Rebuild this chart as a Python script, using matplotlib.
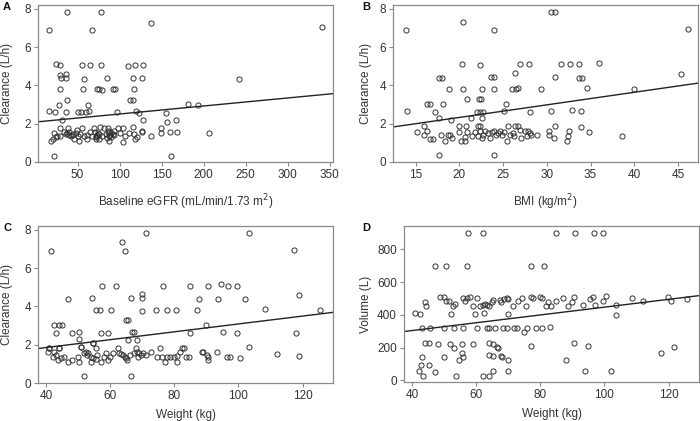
import numpy as np
import matplotlib
matplotlib.use("Agg")
import matplotlib.pyplot as plt

plt.rcParams['font.family'] = ['Liberation Sans', 'DejaVu Sans']

# ---- panel A: baseline eGFR vs clearance
egfr_a = [16.2, 37.3, 78.2, 67.5, 137.4, 341, 242, 25, 29.3, 55.6, 64.3, 78.2, 110, 119, 128,
          29.3, 36, 30.5, 36.5, 58, 85, 116.5, 127, 29, 57, 73, 75.4, 78.6, 91.7, 95, 116.7,
          38, 112.8, 115.6, 28, 62, 182, 193, 15.8, 23.8, 36.9, 50.4, 53.6, 60.7, 63.5, 96.5,
          119.5, 123.1, 154.9, 31.7, 128.3, 166.8, 156.9,
          29, 38.9, 49.6, 55.6, 69.5, 76.6, 81.4, 86.6, 97.7, 104.4, 116, 127.1, 149.7,
          22.6, 25.8, 29.7, 33.7, 36.9, 39.7, 41.7, 44.8, 48.8, 50.4, 52.8, 57.5, 61.5, 64.7,
          67.5, 70.3, 72.6, 75.4, 79.4, 86.2, 88.5, 90.1, 93.3, 100.5, 106, 111.2, 117.1, 117.9,
          127.1, 137.8, 149.7, 160, 168.8, 93.3, 18.6, 21, 25, 45.6, 51.6, 61.5, 71.5, 75.4,
          87.3, 104.4, 120.3, 22.6, 160.8, 206, 85, 88, 90, 87, 92, 84, 73, 74, 72, 37, 40, 43]
cl_a = [6.87, 7.83, 7.83, 6.90, 7.25, 7.04, 4.33, 5.13, 5.08, 5.06, 5.06, 5.06, 5.04, 5.06, 5.06,
        4.54, 4.60, 4.37, 4.37, 4.35, 4.37, 4.37, 4.37, 3.81, 3.79, 3.81, 3.81, 3.77, 3.81, 3.81, 3.81,
        3.23, 3.25, 3.23, 2.99, 3.00, 3.03, 2.99, 2.64, 2.61, 2.61, 2.59, 2.59, 2.61, 2.68, 2.59,
        2.68, 2.56, 2.56, 2.21, 2.21, 2.21, 2.07,
        1.79, 1.79, 1.65, 1.79, 1.79, 1.83, 1.79, 1.79, 1.79, 1.79, 1.83, 1.62, 1.79,
        1.51, 1.37, 1.37, 1.55, 1.48, 1.43, 1.37, 1.48, 1.51, 1.37, 1.48, 1.37, 1.43, 1.55,
        1.37, 1.55, 1.37, 1.48, 1.37, 1.55, 1.43, 1.30, 1.43, 1.51, 1.37, 1.51, 1.48, 1.20,
        1.55, 1.37, 1.51, 1.55, 1.58, 1.60, 1.08, 1.20, 1.30, 1.20, 1.08, 1.20, 1.20, 1.20,
        1.08, 1.03, 1.30, 0.33, 0.33, 1.53, 1.25, 1.35, 1.50, 1.62, 1.45, 1.45, 1.42, 1.52, 1.30, 1.52, 1.55, 1.40]
fit_a_x = [3, 354]
fit_a_y = [2.10, 3.57]

# ---- panel B: BMI vs clearance
bmi_b = [13.85, 20.42, 23.93, 30.46, 30.95, 46.1, 20.3, 22.37, 26.95, 28.0, 31.6, 32.67, 33.74, 35.95,
         26.37, 30.92, 17.67, 18.05, 23.63, 24.0, 33.7, 34.08, 45.38, 18.78, 20.46, 22.56, 24.0,
         25.99, 26.53, 26.72, 29.35, 34.58, 39.92, 20.92, 22.25, 22.52, 16.34, 16.6, 18.13, 25.3,
         14.05, 17.18, 22.02, 22.4, 22.71, 25.08, 28.05, 30.46, 32.86, 33.9, 17.67, 19.0, 21.3, 22.6,
         15.2, 16.0, 16.3, 15.9, 16.6, 17.0, 17.9, 18.3, 18.7, 19.1, 18.9, 19.95, 20.0, 20.2, 20.6,
         20.8, 20.9, 20.6, 21.4, 21.8, 22.1, 22.3, 22.1, 22.4, 22.6, 22.7, 22.9, 23.5, 23.7, 23.9,
         24.2, 24.4, 24.6, 24.9, 25.1, 25.4, 25.6, 25.8, 26.1, 26.2, 26.4, 26.7, 26.9, 27.1, 27.5,
         27.7, 27.9, 28.05, 28.2, 28.9, 30.3, 30.3, 30.8, 30.9, 32.3, 32.4, 32.56, 33.9, 34.8, 38.55,
         17.67, 23.9, 23.3]
cl_b = [6.90, 7.30, 6.90, 7.86, 7.86, 6.96, 5.13, 5.08, 5.10, 5.10, 5.10, 5.10, 5.10, 5.18,
        4.64, 4.43, 4.40, 4.40, 4.43, 4.43, 4.40, 4.40, 4.59, 3.83, 3.83, 3.83, 3.81,
        3.83, 3.83, 3.88, 3.83, 3.86, 3.83, 3.29, 3.29, 3.29, 3.04, 3.04, 3.04, 3.04,
        2.64, 2.61, 2.63, 2.63, 2.63, 2.64, 2.63, 2.66, 2.70, 2.64, 2.30, 2.17, 2.30, 2.30,
        1.57, 1.86, 1.63, 1.39, 1.22, 1.22, 1.41, 1.10, 1.41, 1.27, 1.43, 1.57, 1.86, 1.11, 1.29,
        1.86, 1.57, 1.10, 1.37, 1.55, 1.86, 1.86, 1.37, 1.60, 1.23, 1.43, 1.60, 1.25, 1.55, 1.60,
        1.39, 1.51, 1.60, 1.43, 1.55, 1.08, 1.86, 1.43, 1.51, 1.37, 1.86, 1.86, 1.65, 1.25, 1.60,
        1.37, 1.60, 1.51, 1.43, 1.41, 1.60, 1.43, 1.25, 1.86, 1.10, 1.37, 1.60, 1.81, 1.55, 1.37,
        0.38, 0.38, 1.51]
fit_b_x = [12.4, 47.3]
fit_b_y = [1.83, 4.12]

# ---- panel C: weight vs clearance
wt_c = [41.66, 63.8, 64.7, 71.3, 103.3, 117.2, 57.5, 61.8, 76.6, 84.9, 90.6, 94.7, 96.7, 99.6,
        69.9, 69.9, 66.5, 54.4, 46.8, 87.7, 93.6, 102.1, 118.9, 55.5, 56.7, 60.3, 69.9, 74.3, 77.7,
        80.5, 87.2, 108.4, 125.5, 64.9, 65.7, 42.4, 44.0, 45.1, 43.0, 90.0, 48.2, 50.2, 57.2, 59.3,
        66.7, 67.5, 84.9, 95.3, 99.6, 118.1, 50.2, 65.7, 68.5, 54.8, 50.9, 40.9, 44.2, 103.3, 112.1,
        119.0, 100.6, 97.3, 96.3, 93.2, 90.6, 90.6, 88.9, 51.8, 66.5,
        41.0, 42.6, 42.1, 43.1, 44.1, 43.6, 44.7, 45.5, 46.9, 48.0, 50.0, 50.4, 50.9, 51.9, 52.4,
        52.7, 53.1, 54.0, 54.8, 55.5, 55.8, 55.5, 57.1, 58.1, 58.6, 59.2, 60.0, 61.0, 62.3, 62.8,
        63.5, 64.1, 64.5, 64.8, 65.2, 66.2, 67.4, 68.0, 68.5, 68.8, 69.0, 69.5, 70.3, 71.1, 72.6,
        74.5, 75.5, 76.2, 77.0, 77.8, 78.8, 79.9, 80.9, 80.9, 81.9, 82.4, 83.0, 83.5, 84.5, 88.7,
        90.2, 40.5, 54.5, 54.0]
cl_c = [6.92, 7.35, 6.92, 7.86, 7.86, 6.97, 5.07, 5.07, 5.07, 5.07, 5.07, 5.16, 5.07, 5.07,
        4.65, 4.43, 4.43, 4.43, 4.37, 4.37, 4.37, 4.37, 4.58, 3.83, 3.83, 3.83, 3.78, 3.83, 3.83,
        3.83, 3.83, 3.87, 3.82, 3.29, 3.29, 3.05, 3.03, 3.05, 2.60, 3.03, 2.63, 2.68, 2.63, 2.63,
        2.67, 2.67, 2.63, 2.68, 2.63, 2.63, 2.28, 2.25, 2.25, 2.07, 1.86, 1.81, 1.85, 1.88, 1.52,
        1.39, 1.33, 1.38, 1.38, 1.60, 1.38, 1.22, 1.60, 0.37, 0.37,
        1.81, 1.60, 1.38, 1.46, 1.81, 1.20, 1.29, 1.38, 1.11, 1.20, 1.38, 1.11, 1.90, 1.55, 1.64,
        1.46, 1.59, 1.11, 2.07, 1.81, 1.46, 1.24, 1.11, 1.38, 1.55, 1.20, 1.38, 1.55, 1.81, 1.59,
        1.52, 1.46, 1.38, 1.29, 1.20, 1.46, 1.55, 1.81, 1.64, 1.38, 1.55, 1.46, 1.55, 1.46, 1.64,
        1.38, 1.81, 1.38, 1.11, 1.38, 1.38, 1.38, 1.41, 1.11, 1.64, 1.81, 1.81, 1.38, 1.38, 1.64,
        1.46, 1.64, 1.29, 1.38]
fit_c_x = [37.5, 129.5]
fit_c_y = [1.80, 3.69]

# ---- panel D: weight vs volume
wt_d = [57.6, 62.0, 85.0, 90.7, 96.8, 99.7, 47.1, 50.5, 57.3, 77.1, 81.1,
        44.1, 44.4, 48.6, 50.0, 50.5, 51.4, 52.7, 53.4, 55.8, 56.5, 57.1, 58.1, 58.9, 60.4, 61.2,
        62.0, 62.7, 63.5, 64.1, 64.8, 65.3, 67.4, 67.9, 68.6, 69.5, 70.0, 71.5, 73.1, 74.4, 75.7,
        77.1, 77.7, 79.8, 80.6, 81.7, 82.4, 83.4, 84.8, 87.2, 88.8, 89.9, 90.6,
        40.9, 42.4, 52.1, 59.6, 62.5, 70.0,
        43.0, 45.7, 50.1, 53.1, 56.0, 60.2, 63.5, 64.1, 65.8, 68.4, 69.5, 71.8, 72.6, 74.8, 75.9,
        78.8, 80.6, 83.1,
        44.1, 45.2, 48.1, 51.9, 53.1, 55.7, 59.1, 64.1, 65.1, 66.6, 66.9, 77.0,
        43.1, 50.1, 54.5, 55.5, 55.8, 64.1, 65.1, 67.9, 68.2, 70.0, 87.9,
        42.1, 42.8, 45.2, 47.2, 53.7, 43.4, 62.0, 64.0, 65.3, 70.0,
        93.2, 95.5, 96.5, 97.2, 99.7, 100.5, 108.5, 112.0, 119.8, 120.9, 125.8, 103.6, 103.6,
        90.6, 94.8, 93.9, 102.2, 117.5, 121.7]
vol_d = [899, 899, 899, 899, 899, 899, 699, 699, 699, 699, 699,
         480, 454, 506, 510, 486, 486, 454, 466, 500, 486, 500, 510, 454, 500, 454,
         460, 464, 460, 454, 480, 490, 490, 480, 494, 500, 494, 454, 486, 500, 454,
         510, 500, 510, 500, 454, 480, 454, 486, 500, 454, 480, 510,
         409, 405, 403, 403, 409, 405,
         322, 322, 322, 322, 322, 322, 322, 322, 322, 322, 318, 322, 318, 298, 322,
         322, 322, 328,
         227, 227, 223, 223, 196, 223, 223, 231, 223, 203, 196, 207,
         142, 142, 126, 166, 140, 156, 146, 146, 142, 122, 126,
         55, 95, 95, 53, 24, 24, 28, 28, 55, 55,
         460, 494, 506, 460, 486, 514, 500, 486, 510, 486, 496, 460, 399,
         227, 207, 55, 57, 164, 203]
fit_d_x = [37.5, 129.5]
fit_d_y = [298, 517]

W, H = 700, 421
fig = plt.figure(figsize=(W / 100, H / 100), dpi=100)
grey = '#8a8a8a'
txt = '#333333'


def px_axes(l, r, t, b):
    return fig.add_axes([l / W, 1 - b / H, (r - l) / W, (b - t) / H])


def style(ax):
    for s in ax.spines.values():
        s.set_color(grey)
        s.set_linewidth(0.9)
    ax.tick_params(direction='out', length=3, width=0.8, color=grey,
                   labelsize=8.5, labelcolor=txt, pad=2)


panels = [
    ('A', egfr_a, cl_a, fit_a_x, fit_a_y, (38, 333, 5, 162), (3, 354), (0, 8.2),
     np.arange(50, 351, 50), [0, 2, 4, 6, 8], 'Baseline eGFR (mL/min/1.73 m$^2$)', 'Clearance (L/h)'),
    ('B', bmi_b, cl_b, fit_b_x, fit_b_y, (393, 698, 5, 162), (12.4, 47.3), (0, 8.2),
     np.arange(15, 46, 5), [0, 2, 4, 6, 8], 'BMI (kg/m$^2$)', 'Clearance (L/h)'),
    ('C', wt_c, cl_c, fit_c_x, fit_c_y, (38, 333, 226, 383), (37.5, 129.5), (0, 8.2),
     np.arange(40, 121, 20), [0, 2, 4, 6, 8], 'Weight (kg)', 'Clearance (L/h)'),
    ('D', wt_d, vol_d, fit_d_x, fit_d_y, (404, 699, 226, 382), (37.5, 129.5), (-10, 942),
     np.arange(40, 121, 20), [0, 200, 400, 600, 800], 'Weight (kg)', 'Volume (L)'),
]

for letter, xs, ys, fx, fy, box, xl, yl, xt, yt, xlab, ylab in panels:
    l, r, t, b = box
    ax = px_axes(l, r, t, b)
    ax.plot(xs, ys, 'o', ms=3.7, mfc='none', mec='#333333', mew=0.7, clip_on=False)
    ax.plot(fx, fy, '-', color='#222222', lw=1.0)
    ax.set_xlim(*xl)
    ax.set_ylim(*yl)
    ax.set_xticks(xt)
    ax.set_yticks(yt)
    style(ax)
    pad = 8 if t < 100 else 5
    ax.set_xlabel(xlab, fontsize=8.5, color=txt, labelpad=pad)
    ax.set_ylabel(ylab, fontsize=8.5, color=txt)
    lx = 13 if l < 200 else 372
    ax.yaxis.set_label_coords((lx - l) / (r - l), 0.5)
    fig.text((lx - 6) / W, 1 - (t + 2) / H, letter, fontsize=8, fontweight='bold',
             color='#111111', ha='center', va='center')

fig.savefig('out.png', dpi=100)
